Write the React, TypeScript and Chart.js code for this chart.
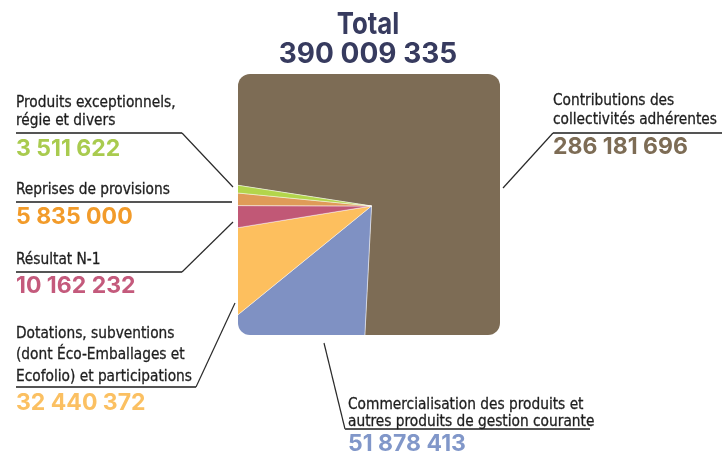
import React, { useEffect, useRef } from "react";
import { Chart, registerables } from "chart.js";

Chart.register(...registerables);

// ---- data ----
const categories = [
  "Contributions des collectivités adhérentes",
  "Commercialisation des produits et autres produits de gestion courante",
  "Dotations, subventions (dont Éco-Emballages et Ecofolio) et participations",
  "Résultat N-1",
  "Reprises de provisions",
  "Produits exceptionnels, régie et divers",
];
const values = [286181696, 51878413, 32440372, 10162232, 5835000, 3511622];
const labelLines = [
  ["Contributions des", "collectivités adhérentes"],
  ["Commercialisation des produits et", "autres produits de gestion courante"],
  ["Dotations, subventions", "(dont Éco-Emballages et", "Ecofolio) et participations"],
  ["Résultat N-1"],
  ["Reprises de provisions"],
  ["Produits exceptionnels,", "régie et divers"],
];
const totalLabel = "Total";
const totalValue = 390009335;

// ---- styles ----
const sliceColors = ["#7d6c55", "#7f91c3", "#fdbf5e", "#c15876", "#df9b58", "#b3d54b"];
const valueColors = ["#7d6c55", "#8197c9", "#fbc062", "#c45a7c", "#f29b2a", "#a9cb4f"];

// label layout: left x, first text baseline, line height, number baseline
const labelLayout = [
  { x: 553, base: 105, lh: 19.5, numBase: 155 },
  { x: 348, base: 409, lh: 17, numBase: 452 },
  { x: 16, base: 338, lh: 21.5, numBase: 411 },
  { x: 16, base: 265, lh: 18, numBase: 294 },
  { x: 16, base: 195, lh: 18, numBase: 225 },
  { x: 16, base: 108, lh: 18, numBase: 157 },
];

// leader lines (annotation layout)
const leaders: number[][][] = [
  [[722, 133], [553, 133], [503, 188]],
  [[324, 343], [345, 429], [590, 429]],
  [[16, 387], [196, 387], [235, 303]],
  [[16, 272], [182, 272], [233, 222]],
  [[16, 202], [232, 202]],
  [[16, 133], [182, 133], [233, 187]],
];

const fmt = (n: number) => n.toString().replace(/\B(?=(\d{3})+(?!\d))/g, " ");

const LABEL_FONT = '"Liberation Sans Narrow", "DejaVu Sans Condensed", "Roboto Condensed", "Liberation Sans", sans-serif';
const NUM_FONT = 'Inter, "DejaVu Sans", sans-serif';

const squareClip = {
  id: "squareClip",
  beforeDatasetsDraw(chart: any) {
    const arc = chart.getDatasetMeta(0).data[0];
    if (!arc) return;
    const ctx = chart.ctx;
    ctx.save();
    ctx.beginPath();
    ctx.roundRect(arc.x - 133.5, arc.y - 132, 262, 261, 12);
    ctx.clip();
  },
  afterDatasetsDraw(chart: any) {
    chart.ctx.restore();
  },
};

const leaderLines = {
  id: "leaderLines",
  afterDraw(chart: any) {
    const ctx = chart.ctx;
    ctx.save();
    leaders.forEach((pts) => {
      for (let i = 0; i < pts.length - 1; i++) {
        const [x1, y1] = pts[i];
        const [x2, y2] = pts[i + 1];
        const horizontal = y1 === y2;
        ctx.beginPath();
        ctx.strokeStyle = horizontal ? "#555555" : "#2a2a2a";
        ctx.lineWidth = horizontal ? 2 : 1.2;
        ctx.moveTo(x1, y1);
        ctx.lineTo(x2, y2);
        ctx.stroke();
      }
    });
    ctx.restore();
  },
};

const textTop = (base: number, lh: number, size: number, k = 0.346) => base - lh / 2 - k * size;
const INTER_K = 0.3635;

export default function App() {
  const ref = useRef<HTMLCanvasElement>(null);

  useEffect(() => {
    if (!ref.current) return;
    const chart = new Chart(ref.current, {
      type: "pie",
      data: {
        labels: categories,
        datasets: [
          {
            data: values,
            backgroundColor: sliceColors,
            borderColor: "rgba(255,255,255,0.45)",
            borderWidth: 1,
            radius: 210,
            rotation: 278.8,
          } as any,
        ],
      },
      options: {
        animation: false,
        responsive: false,
        layout: { padding: { left: 21, right: 0, top: 0, bottom: 42 } },
        plugins: {
          legend: { display: false },
          tooltip: { enabled: false },
          title: { display: false },
        },
      },
      plugins: [squareClip, leaderLines],
    });
    return () => chart.destroy();
  }, []);

  const labelSize = 16;
  const numSize = 23;

  return (
    <div style={{ position: "absolute", left: 0, top: 0, width: 722, height: 454, background: "#fff", overflow: "hidden" }}>
      <canvas ref={ref} width={722} height={454} style={{ position: "absolute", left: 0, top: 0 }} />
      <div
        style={{
          position: "absolute",
          left: 268,
          width: 200,
          top: textTop(34, 30, 30, INTER_K),
          textAlign: "center",
          fontFamily: NUM_FONT,
          fontWeight: 700,
          fontSize: 30,
          lineHeight: "30px",
          color: "#373b5f",
          transform: "scaleX(0.86)",
          transformOrigin: "center top",
        }}
      >
        {totalLabel}
      </div>
      <div
        style={{
          position: "absolute",
          left: 218,
          width: 300,
          top: textTop(63, 28, 28, INTER_K),
          textAlign: "center",
          fontFamily: NUM_FONT,
          fontWeight: 700,
          fontSize: 28,
          lineHeight: "28px",
          color: "#373b5f",
          whiteSpace: "nowrap",
          fontVariantNumeric: "proportional-nums",
        }}
      >
        {fmt(totalValue)}
      </div>
      {labelLines.map((lines, i) => {
        const L = labelLayout[i];
        return (
          <React.Fragment key={i}>
            <div
              style={{
                position: "absolute",
                left: L.x,
                top: textTop(L.base, L.lh, labelSize),
                fontFamily: LABEL_FONT,
                fontSize: labelSize,
                lineHeight: `${L.lh}px`,
                color: "#1e1e1e",
                WebkitTextStroke: "0.3px #1e1e1e",
                whiteSpace: "nowrap",
                transform: "scaleX(0.955)",
                transformOrigin: "left top",
              }}
            >
              {lines.map((t, j) => (
                <div key={j}>{t}</div>
              ))}
            </div>
            <div
              style={{
                position: "absolute",
                left: L.x,
                top: textTop(L.numBase, numSize, numSize, INTER_K),
                fontFamily: NUM_FONT,
                fontWeight: 700,
                fontSize: numSize,
                lineHeight: `${numSize}px`,
                color: valueColors[i],
                whiteSpace: "nowrap",
                fontVariantNumeric: "proportional-nums",
              }}
            >
              {fmt(values[i])}
            </div>
          </React.Fragment>
        );
      })}
    </div>
  );
}
